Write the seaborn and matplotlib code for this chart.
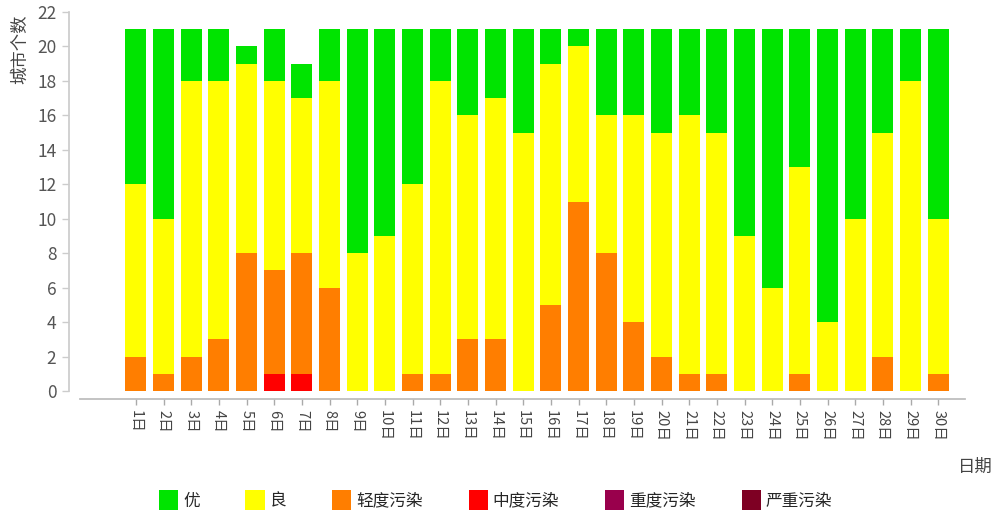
import matplotlib
matplotlib.use("Agg")
import matplotlib.pyplot as plt
import seaborn as sns
import pandas as pd
import numpy as np
from matplotlib.patches import Patch

days = [f"{i}日" for i in range(1, 31)]
excellent = [9, 11, 3, 3, 1, 3, 2, 3, 13, 12, 9, 3, 5, 4, 6, 2, 1, 5, 5, 6, 5, 6, 12, 15, 8, 17, 11, 6, 3, 11]
good      = [10, 9, 16, 15, 11, 11, 9, 12, 8, 9, 11, 17, 13, 14, 15, 14, 9, 8, 12, 13, 15, 14, 9, 6, 12, 4, 10, 13, 18, 9]
light     = [2, 1, 2, 3, 8, 6, 7, 6, 0, 0, 1, 1, 3, 3, 0, 5, 11, 8, 4, 2, 1, 1, 0, 0, 1, 0, 0, 2, 0, 1]
moderate  = [0, 0, 0, 0, 0, 1, 1, 0, 0, 0, 0, 0, 0, 0, 0, 0, 0, 0, 0, 0, 0, 0, 0, 0, 0, 0, 0, 0, 0, 0]
heavy     = [0] * 30
severe    = [0] * 30

levels = ["优", "良", "轻度污染", "中度污染", "重度污染", "严重污染"]
colors = ["#00e400", "#ffff00", "#ff7e00", "#ff0000", "#99004c", "#7e0023"]

sns.set_theme(style="white")
plt.rcParams['font.family'] = ['Noto Sans CJK SC', 'DejaVu Sans']

df = pd.DataFrame({"day": days, "优": excellent, "良": good, "轻度污染": light,
                   "中度污染": moderate, "重度污染": heavy, "严重污染": severe})
stack_order = ["严重污染", "重度污染", "中度污染", "轻度污染", "良", "优"]
cum = df[stack_order].cumsum(axis=1)

fig = plt.figure(figsize=(9.97, 5.15), dpi=100)
ax = fig.add_axes([80/997, 1 - 391/515, (965-80)/997, (391-12)/515])

for lvl in reversed(stack_order):
    c = colors[levels.index(lvl)]
    sns.barplot(x=df["day"], y=cum[lvl], color=c, width=0.76, ax=ax,
                saturation=1, edgecolor="none", linewidth=0)

ax.set_xlim(-2.02, 29.97)
ax.set_ylim(0, 22)
ax.set_yticks(np.arange(0, 23, 2))
ax.set_xticks(range(30))
ax.set_xlabel("")
ax.set_ylabel("")

for s in ["top", "right"]:
    ax.spines[s].set_visible(False)
ax.spines['left'].set_position(('outward', 8))
ax.spines['bottom'].set_position(('outward', 6))
ax.spines['left'].set_color("#cccccc")
ax.spines['bottom'].set_color("#bbbbbb")
ax.tick_params(axis='y', length=5, color="#cccccc", width=1, pad=4, left=True,
               labelsize=12.5, labelcolor="#555555")
ax.tick_params(axis='x', length=4, color="#aaaaaa", width=1, pad=4, bottom=True,
               labelsize=10.5, labelcolor="#444444")
ax.set_xticklabels(days)
for lab in ax.get_xticklabels():
    lab.set_rotation(-90)
    lab.set_rotation_mode("default")
    lab.set_ha("center")
    lab.set_va("top")

fig.text(20/997, 1 - 49/515, "城市个数", fontsize=12.5, color="#444444",
         rotation=90, ha="center", va="center")
fig.text(975/997, 1 - 467/515, "日期", fontsize=12.5, color="#444444", ha="center", va="center")

handles = [Patch(facecolor=c, edgecolor="none", label=l) for l, c in zip(levels, colors)]
fig.legend(handles=handles, loc="center", bbox_to_anchor=(0.497, 1 - 500/515), ncol=6,
           frameon=False, fontsize=12, handlelength=1.15, handleheight=1.4,
           handletextpad=0.3, columnspacing=2.75)

fig.savefig("out.png", dpi=100)
